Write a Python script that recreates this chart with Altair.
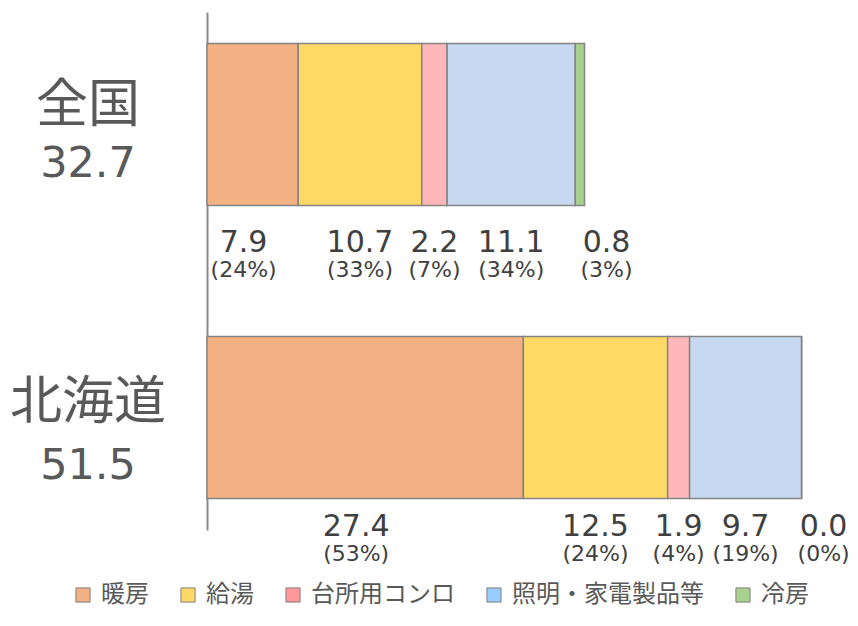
import altair as alt
import pandas as pd

regions = ["全国", "北海道"]
categories = ["暖房", "給湯", "台所用コンロ", "照明・家電製品等", "冷房"]
values_zenkoku = [7.9, 10.7, 2.2, 11.1, 0.8]
values_hokkaido = [27.4, 12.5, 1.9, 9.7, 0.0]
pct_zenkoku = [24, 33, 7, 34, 3]
pct_hokkaido = [53, 24, 4, 19, 0]
bar_colors = ["#F4B183", "#FED966", "#FFB7B9", "#C6D9F1", "#A9D18E"]
legend_colors = ["#F4B183", "#FFD966", "#FF9999", "#99CCFF", "#A9D18E"]

# per-row text offsets (style): name, total, value, percent
row_offsets = {
    "全国": dict(name=-3, total=52, value=127, pct=152),
    "北海道": dict(name=2, total=62, value=119, pct=144),
}

rows = []
for r, vals, pcts in [(regions[0], values_zenkoku, pct_zenkoku),
                      (regions[1], values_hokkaido, pct_hokkaido)]:
    for i, (c, v, p) in enumerate(zip(categories, vals, pcts)):
        rows.append(dict(region=r, category=c, value=v, pct=p, order=i))
df = pd.DataFrame(rows)

xscale = alt.Scale(domain=[0, 55], nice=False, zero=True)
yscale = alt.Scale(domain=regions, paddingInner=0.447, paddingOuter=0.1075)

base = (
    alt.Chart(df)
    .transform_stack(stack="value", groupby=["region"], as_=["x0", "x1"],
                     sort=[alt.SortField("order", order="ascending")])
    .transform_calculate(
        mid="(datum.x0 + datum.x1) / 2",
        vlabel="format(datum.value, '.1f')",
        plabel="'(' + datum.pct + '%)'",
    )
)

bars = base.mark_bar(stroke="#858585", strokeWidth=1.5).encode(
    x=alt.X("x0:Q", scale=xscale, axis=None),
    x2="x1:Q",
    y=alt.Y("region:N", scale=yscale,
            axis=alt.Axis(labels=False, ticks=False, title=None, grid=False,
                          domainColor="#8c8c8c", domainWidth=2)),
    color=alt.Color("category:N", scale=alt.Scale(domain=categories, range=bar_colors),
                    legend=None),
)

layers = [bars]
totals_base = (
    alt.Chart(df)
    .transform_aggregate(total="sum(value)", groupby=["region"])
    .transform_calculate(tlabel="format(datum.total, '.1f')")
)

for r in regions:
    off = row_offsets[r]
    rb = base.transform_filter(alt.datum.region == r)
    first_b = rb.transform_filter("datum.category == '暖房'")
    mid_b = rb.transform_filter("datum.category != '冷房' && datum.category != '暖房'")
    end_b = rb.transform_filter("datum.category == '冷房'")
    for b, field, dx in [(first_b, "mid", -9), (mid_b, "mid", 0), (end_b, "x1", 22)]:
        layers.append(b.mark_text(font="DejaVu Sans", fontSize=30, color="#404040",
                                  baseline="alphabetic", dy=off["value"], dx=dx).encode(
            x=alt.X(f"{field}:Q", scale=xscale), y=alt.Y("region:N", scale=yscale),
            text="vlabel:N"))
        layers.append(b.mark_text(font="DejaVu Sans", fontSize=22, color="#404040",
                                  baseline="alphabetic", dy=off["pct"], dx=dx).encode(
            x=alt.X(f"{field}:Q", scale=xscale), y=alt.Y("region:N", scale=yscale),
            text="plabel:N"))
    tb = totals_base.transform_filter(alt.datum.region == r)
    layers.append(tb.mark_text(font="Noto Sans CJK JP", fontSize=52, color="#595959",
                               baseline="alphabetic", dy=off["name"]).encode(
        x=alt.value(-119), y=alt.Y("region:N", scale=yscale), text="region:N"))
    layers.append(tb.mark_text(font="DejaVu Sans", fontSize=43, color="#595959",
                               baseline="alphabetic", dy=off["total"]).encode(
        x=alt.value(-119), y=alt.Y("region:N", scale=yscale), text="tlabel:N"))

legend_layer = alt.Chart(pd.DataFrame({"category": categories})).mark_square(opacity=0).encode(
    color=alt.Color(
        "category:N",
        scale=alt.Scale(domain=categories, range=legend_colors),
        sort=categories,
        legend=alt.Legend(
            orient="none", legendX=-136, legendY=571, direction="horizontal",
            title=None, symbolType="square", symbolSize=200,
            symbolStrokeColor="#7f7f7f", symbolStrokeWidth=1, symbolOpacity=1,
            labelFont="Noto Sans CJK JP", labelFontSize=24, labelColor="#595959",
            labelOffset=6, columnPadding=27, padding=0, labelLimit=400,
        ),
    )
)
layers.append(legend_layer)

chart = (
    alt.layer(*layers)
    .resolve_scale(color="independent")
    .properties(
        width=635, height=518,
        autosize=alt.AutoSizeParams(type="none"),
        padding={"left": 199, "top": 4, "right": 8, "bottom": 82},
    )
    .configure_view(stroke=None)
)

chart.save("out.html", embed_options={"renderer": "svg", "actions": False})
